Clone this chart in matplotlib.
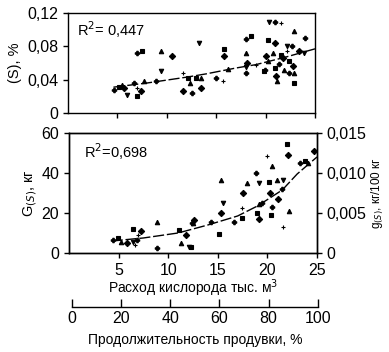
import matplotlib
matplotlib.use("Agg")
import matplotlib.pyplot as plt
import numpy as np

# верхняя панель: (S), %
top_x = [4.7, 5.2, 5.5, 5.7, 6.0, 6.7, 7.0, 7.0, 7.4, 7.7, 7.0, 7.5, 9.4, 10.5, 9.4,
         8.9, 11.6, 12.1, 11.6, 12.3, 12.6, 13.0, 13.5, 13.5, 13.3, 15.0, 15.7, 15.8,
         15.8, 16.2, 18.0, 18.5, 18.0, 18.1, 18.0, 18.0, 19.0, 19.8, 20.0, 20.2, 19.9,
         20.2, 20.7, 20.9, 20.3, 21.0, 21.6, 21.0, 21.1, 21.2, 21.4, 21.6, 21.9, 21.8,
         22.2, 22.7, 22.2, 22.4, 22.8, 22.9, 22.4, 22.9, 22.9, 23.4, 23.9, 24.0]
top_y = [0.028, 0.031, 0.034, 0.030, 0.022, 0.036, 0.030, 0.020, 0.026, 0.038, 0.072,
         0.075, 0.075, 0.068, 0.050, 0.038, 0.048, 0.042, 0.026, 0.036, 0.024, 0.042,
         0.042, 0.030, 0.084, 0.042, 0.038, 0.077, 0.068, 0.053, 0.089, 0.092, 0.072,
         0.060, 0.055, 0.048, 0.058, 0.050, 0.068, 0.062, 0.052, 0.088, 0.072, 0.084,
         0.109, 0.109, 0.108, 0.054, 0.044, 0.038, 0.059, 0.070, 0.052, 0.066, 0.080,
         0.080, 0.074, 0.062, 0.056, 0.048, 0.048, 0.036, 0.098, 0.074, 0.072, 0.090]
top_trend_x = [4.6, 8, 12, 14, 17, 19, 22, 25]
top_trend_y = [0.031, 0.036, 0.043, 0.047, 0.054, 0.058, 0.067, 0.077]

# нижняя панель: G(S), кг
bot_x = [4.4, 4.9, 5.2, 5.8, 6.4, 6.9, 6.7, 6.5, 7.3, 8.9, 8.9, 11.1, 11.3, 11.8, 12.1,
         12.4, 7.0, 12.3, 12.6, 12.5, 14.3, 15.1, 15.3, 15.3, 15.5, 16.6, 17.4, 17.4,
         17.5, 17.9, 18.8, 18.9, 19.1, 19.2, 19.2, 19.5, 20.0, 20.2, 20.3, 20.5, 20.5,
         20.4, 21.0, 21.1, 21.6, 21.5, 21.6, 22.0, 22.1, 22.2, 23.3, 23.8, 24.1, 24.7]
bot_y = [6.5, 7.3, 5.3, 4.8, 5.3, 6.5, 4.0, 11.8, 11.2, 15.7, 2.3, 11.5, 4.8, 9.0, 3.2,
         15.2, 9.0, 3.2, 16.5, 14.8, 15.7, 9.5, 36.5, 20.2, 25.2, 15.3, 22.3, 17.3, 30.2,
         34.8, 39.8, 20.2, 24.5, 16.8, 34.8, 25.2, 48.5, 35.7, 29.8, 43.5, 22.8, 19.0,
         36.5, 26.8, 36.5, 31.8, 13.2, 54.5, 49.0, 21.0, 44.8, 46.2, 44.8, 51.2]
bot_trend_x = [4.3, 7.5, 11, 14, 17, 19, 21.5, 23, 25]
bot_trend_y = [6.0, 7.5, 10.0, 14.0, 18.5, 23.5, 31.5, 39.5, 48.0]

x_ticks = [5, 10, 15, 20, 25]
top_yticks = [0, 0.04, 0.08, 0.12]
top_ylabels = ["0", "0,04", "0,08", "0,12"]
bot_yticks = [0, 20, 40, 60]
right_yticks = [0, 0.005, 0.010, 0.015]
right_ylabels = ["0", "0,005", "0,010", "0,015"]
time_ticks = [0, 20, 40, 60, 80, 100]

MARKERS = ["P", "s", "^", "D", "v", "P", "+", "s", "D", "^"]

plt.rcParams.update({
    "font.family": ["Liberation Sans", "DejaVu Sans"],
    "axes.linewidth": 1.0,
    "xtick.major.width": 1.0,
    "ytick.major.width": 1.0,
    "xtick.major.size": 3.5,
    "ytick.major.size": 3.5,
    "xtick.labelsize": 11.5,
    "ytick.labelsize": 11.5,
})


def scatter_mixed(ax, xs, ys):
    for i, (x, y) in enumerate(zip(xs, ys)):
        m = MARKERS[i % len(MARKERS)]
        ax.plot(x, y, marker=m, color="black", markersize=3.2, markeredgewidth=0.8,
                linestyle="none")


fig = plt.figure(figsize=(3.89, 3.52), dpi=100)

ax1 = fig.add_axes([0.1748, 0.679, 0.635, 0.284])
scatter_mixed(ax1, top_x, top_y)
ax1.plot(top_trend_x, top_trend_y, color="black", lw=1.0, dashes=(8, 2))
ax1.set_xlim(0, 25)
ax1.set_ylim(0, 0.12)
ax1.set_xticks(x_ticks)
ax1.set_xticklabels([])
ax1.set_yticks(top_yticks)
ax1.set_yticklabels(top_ylabels)
ax1.set_ylabel("(S), %", fontsize=10.5, labelpad=4)
ax1.text(0.035, 0.77, "R$^2$= 0,447", transform=ax1.transAxes, fontsize=10.5)

ax2 = fig.add_axes([0.1774, 0.2813, 0.6376, 0.341])
scatter_mixed(ax2, bot_x, bot_y)
ax2.plot(bot_trend_x, bot_trend_y, color="black", lw=1.0, dashes=(8, 2))
ax2.set_xlim(0, 25)
ax2.set_ylim(0, 60)
ax2.set_xticks(x_ticks)
ax2.set_yticks(bot_yticks)
ax2.set_ylabel("G$_{(S)}$, кг", fontsize=10.5, labelpad=2)
ax2.set_xlabel("Расход кислорода тыс. м$^3$", fontsize=10, labelpad=0)
ax2.text(0.06, 0.79, "R$^2$=0,698", transform=ax2.transAxes, fontsize=10.5)

ax2r = ax2.twinx()
ax2r.set_ylim(0, 0.015)
ax2r.set_yticks(right_yticks)
ax2r.set_yticklabels(right_ylabels)
ax2r.set_ylabel("g$_{(S)}$, кг/100 кг", fontsize=8.5, labelpad=2)

ax3 = fig.add_axes([0.185, 0.1278, 0.632, 1e-6])
for s in ["left", "right", "top"]:
    ax3.spines[s].set_visible(False)
ax3.set_yticks([])
ax3.set_xlim(0, 100)
ax3.set_xticks(time_ticks)
ax3.tick_params(axis="x", direction="in", length=6, pad=3)
ax3.set_xlabel("Продолжительность продувки, %", fontsize=10, labelpad=5)

fig.savefig("out.png", dpi=100, facecolor="white")
